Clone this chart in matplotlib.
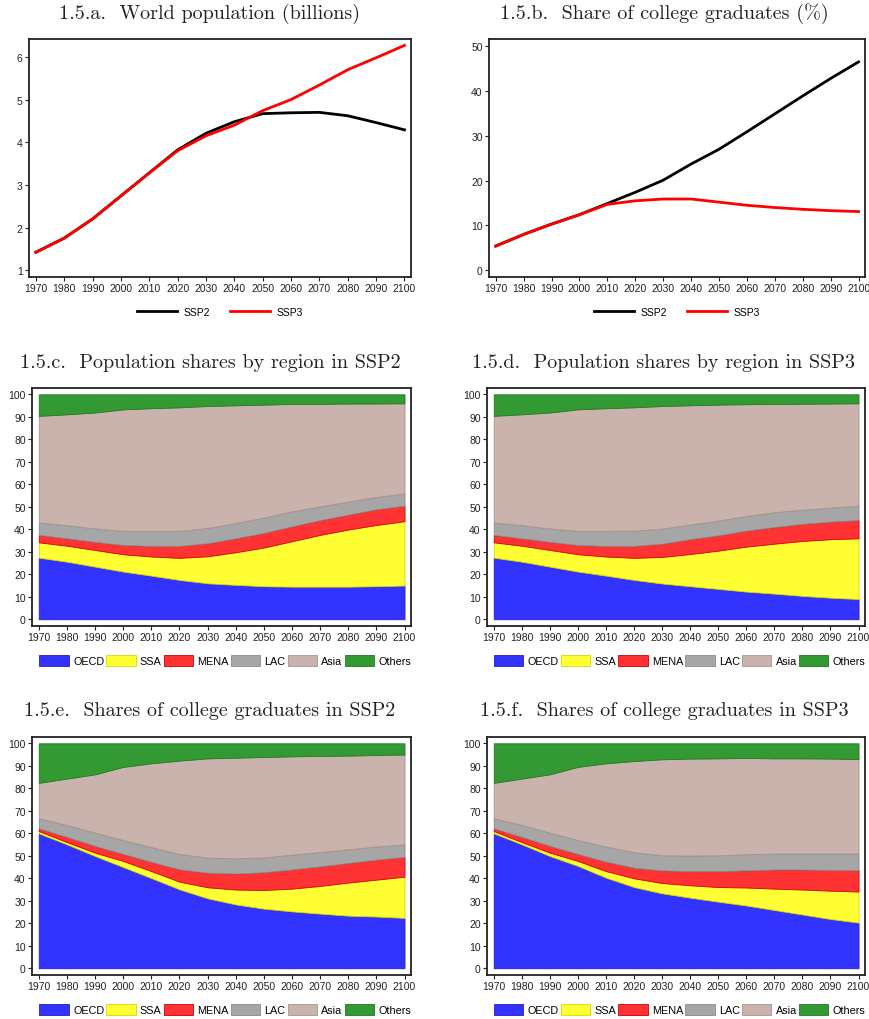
import numpy as np
import matplotlib
matplotlib.use("Agg")
import matplotlib.pyplot as plt
from matplotlib.patches import Patch
from matplotlib.lines import Line2D

plt.rcParams.update({"font.family": "Liberation Sans", "font.size": 7.5})

years = [1970, 1980, 1990, 2000, 2010, 2020, 2030, 2040, 2050, 2060, 2070, 2080, 2090, 2100]

# world population, billions
pop_ssp2 = [1.42, 1.75, 2.20, 2.74, 3.28, 3.82, 4.21, 4.48, 4.67, 4.69, 4.70, 4.62, 4.46, 4.29]
pop_ssp3 = [1.42, 1.75, 2.20, 2.74, 3.28, 3.80, 4.15, 4.40, 4.74, 5.00, 5.34, 5.70, 5.98, 6.27]

# share of college graduates, %
col_ssp2 = [5.4, 8.0, 10.3, 12.4, 14.9, 17.4, 20.1, 23.7, 27.0, 30.9, 34.9, 38.9, 42.8, 46.5]
col_ssp3 = [5.4, 8.0, 10.3, 12.4, 14.7, 15.5, 15.9, 15.9, 15.2, 14.5, 14.0, 13.6, 13.3, 13.1]

regions = ["OECD", "SSA", "MENA", "LAC", "Asia", "Others"]
reg_colors = ["#3333ff", "#ffff33", "#ff3333", "#a6a6a6", "#cbb3ad", "#339933"]
reg_edges = ["#2020c0", "#d8d800", "#d00000", "#8a8a8a", "#a8948e", "#1f7a1f"]

# population shares by region, SSP2 (%)
popsh_ssp2 = {
    "OECD":   [27.4, 25.6, 23.4, 21.2, 19.4, 17.5, 16.0, 15.3, 14.7, 14.5, 14.5, 14.5, 14.7, 15.0],
    "SSA":    [6.8, 7.1, 7.4, 7.7, 8.5, 9.8, 12.0, 14.5, 17.2, 20.2, 23.0, 25.4, 27.2, 28.6],
    "MENA":   [3.3, 3.3, 3.6, 4.1, 4.7, 5.3, 5.8, 6.2, 6.5, 6.6, 6.6, 6.6, 7.0, 6.9],
    "LAC":    [5.5, 5.8, 6.0, 6.3, 6.7, 6.7, 6.8, 6.8, 6.8, 6.7, 6.1, 5.8, 5.5, 5.4],
    "Asia":   [47.4, 49.3, 51.5, 54.0, 54.5, 54.9, 54.2, 52.3, 50.2, 47.7, 45.5, 43.6, 41.5, 40.1],
    "Others": [9.6, 8.9, 8.1, 6.7, 6.2, 5.8, 5.2, 4.9, 4.6, 4.3, 4.3, 4.1, 4.1, 4.0],
}
# population shares by region, SSP3 (%)
popsh_ssp3 = {
    "OECD":   [27.4, 25.6, 23.4, 21.2, 19.4, 17.5, 15.9, 14.7, 13.5, 12.3, 11.4, 10.4, 9.6, 9.0],
    "SSA":    [6.8, 7.1, 7.4, 7.7, 8.5, 9.8, 11.8, 14.3, 17.0, 20.0, 22.2, 24.4, 26.0, 27.0],
    "MENA":   [3.3, 3.3, 3.6, 4.1, 4.7, 5.3, 5.9, 6.6, 6.8, 7.1, 7.4, 7.6, 7.8, 8.1],
    "LAC":    [5.5, 5.8, 6.0, 6.3, 6.7, 6.8, 6.7, 6.5, 6.6, 6.5, 6.6, 6.3, 6.2, 6.4],
    "Asia":   [47.4, 49.3, 51.5, 54.0, 54.5, 54.8, 54.5, 53.0, 51.5, 49.7, 48.1, 47.1, 46.3, 45.5],
    "Others": [9.6, 8.9, 8.1, 6.7, 6.2, 5.8, 5.2, 4.9, 4.6, 4.4, 4.3, 4.2, 4.1, 4.0],
}
# shares of college graduates by region, SSP2 (%)
colsh_ssp2 = {
    "OECD":   [60.0, 55.1, 49.9, 45.0, 40.1, 35.1, 31.1, 28.4, 26.5, 25.3, 24.3, 23.4, 23.0, 22.4],
    "SSA":    [1.0, 1.0, 1.5, 2.7, 3.1, 3.4, 4.9, 6.6, 8.3, 10.1, 12.3, 14.7, 16.4, 18.3],
    "MENA":   [1.2, 2.3, 3.0, 3.1, 4.1, 5.5, 6.5, 7.1, 7.9, 8.5, 8.7, 8.7, 8.9, 8.8],
    "LAC":    [4.5, 5.3, 5.9, 6.2, 6.6, 6.8, 6.7, 6.8, 6.6, 6.6, 6.4, 6.1, 5.8, 5.6],
    "Asia":   [15.7, 20.6, 25.9, 32.5, 37.2, 41.5, 44.1, 44.7, 44.6, 43.7, 42.7, 41.6, 40.7, 39.9],
    "Others": [17.6, 15.7, 13.8, 10.5, 8.9, 7.7, 6.7, 6.4, 6.1, 5.8, 5.6, 5.5, 5.2, 5.0],
}
# shares of college graduates by region, SSP3 (%)
colsh_ssp3 = {
    "OECD":   [60.0, 55.1, 49.9, 45.5, 40.3, 36.1, 33.3, 31.4, 29.6, 27.9, 25.9, 23.9, 21.9, 20.3],
    "SSA":    [1.0, 1.0, 1.5, 2.2, 2.9, 3.9, 4.6, 5.5, 6.5, 8.0, 9.5, 11.1, 12.6, 13.8],
    "MENA":   [1.2, 2.3, 3.0, 3.1, 4.2, 4.7, 5.6, 6.3, 7.1, 7.6, 8.5, 8.9, 9.2, 9.5],
    "LAC":    [4.5, 5.3, 5.9, 6.2, 6.7, 6.9, 6.7, 6.9, 7.0, 7.2, 7.1, 7.1, 7.3, 7.4],
    "Asia":   [15.7, 20.6, 25.9, 32.5, 37.0, 40.5, 42.7, 43.1, 43.1, 42.8, 42.3, 42.3, 42.2, 42.0],
    "Others": [17.6, 15.7, 13.8, 10.5, 8.9, 7.9, 7.1, 6.8, 6.7, 6.5, 6.7, 6.7, 6.8, 7.0],
}

titles = [
    "1.5.a.  World population (billions)",
    "1.5.b.  Share of college graduates (%)",
    "1.5.c.  Population shares by region in SSP2",
    "1.5.d.  Population shares by region in SSP3",
    "1.5.e.  Shares of college graduates in SSP2",
    "1.5.f.  Shares of college graduates in SSP3",
]

W, H = 870, 1020
fig = plt.figure(figsize=(W / 100, H / 100), dpi=100)

def axbox(l, r, t, b):
    return [l / W, (H - b) / H, (r - l) / W, (b - t) / H]

def style(ax, yticks):
    ax.set_xlim(1967.6, 2102.3)
    ax.set_xticks(years)
    ax.set_yticks(yticks)
    ax.tick_params(direction="out", length=3, width=0.8, pad=1.5, labelsize=7.5, colors="#222")
    for s in ax.spines.values():
        s.set_linewidth(1.3); s.set_color("#222")

# line panels
line_data = [(pop_ssp2, pop_ssp3, (0.84, 6.42), range(1, 7)),
             (col_ssp2, col_ssp3, (-1.5, 51.6), range(0, 51, 10))]
boxes_top = [axbox(29, 411, 40, 278), axbox(489, 865, 40, 278)]
for i, (s2, s3, yl, yt) in enumerate(line_data):
    ax = fig.add_axes(boxes_top[i])
    ax.plot(years, s2, color="black", lw=2)
    ax.plot(years, s3, color="#ff0000", lw=2)
    ax.set_ylim(*yl)
    style(ax, list(yt))
    handles = [Line2D([], [], color="black", lw=2), Line2D([], [], color="#ff0000", lw=2)]
    ax.legend(handles, ["SSP2", "SSP3"], loc="upper center", bbox_to_anchor=(0.5, -0.085),
              ncol=2, frameon=False, handlelength=3.8, columnspacing=2.0, handletextpad=0.6,
              fontsize=7.5)

# stacked area panels
stack_data = [popsh_ssp2, popsh_ssp3, colsh_ssp2, colsh_ssp3]
stack_boxes = [axbox(32, 411, 389, 627), axbox(487, 865, 389, 627),
               axbox(32, 411, 738, 976), axbox(487, 865, 738, 976)]
for d, box in zip(stack_data, stack_boxes):
    ax = fig.add_axes(box)
    polys = ax.stackplot(years, *[d[r] for r in regions], colors=reg_colors)
    for p, ec in zip(polys, reg_edges):
        p.set_edgecolor(ec); p.set_linewidth(0.6)
    ax.set_ylim(-3.0, 102.8)
    style(ax, list(range(0, 101, 10)))
    handles = [Patch(facecolor=c, edgecolor=e, lw=0.6) for c, e in zip(reg_colors, reg_edges)]
    ax.legend(handles, regions, loc="upper center", bbox_to_anchor=(0.51, -0.08),
              ncol=6, frameon=False, handlelength=2.7, handleheight=1.25,
              handletextpad=0.4, columnspacing=0.2, fontsize=7.8)

# panel titles
title_pos = [(210, 14), (664, 14), (210, 363), (664, 363), (210, 711), (664, 711)]
for t, (x, y) in zip(titles, title_pos):
    fig.text(x / W, 1 - y / H, t, ha="center", va="center", fontsize=14.5,
             family=["cmr10", "DejaVu Serif"], color="#222")

fig.savefig("out.png", dpi=100)
